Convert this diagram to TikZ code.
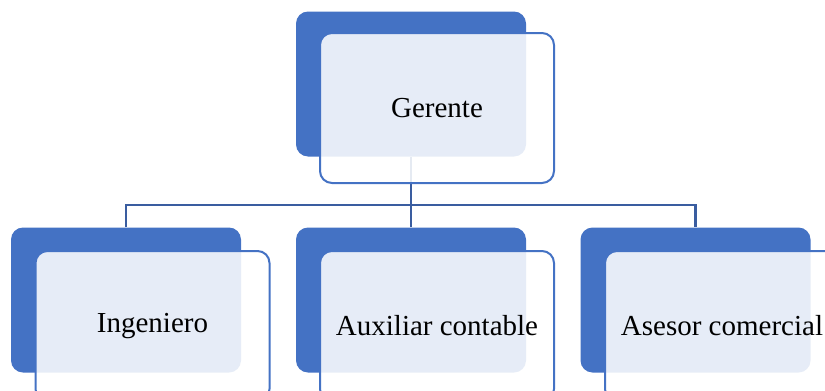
\documentclass[tikz,border=0pt]{standalone}
\usepackage{fontspec}
\setmainfont{Liberation Serif}
\definecolor{boxblue}{HTML}{4472C4}
\definecolor{linkblue}{HTML}{3A5DA0}
\begin{document}
\begin{tikzpicture}[x=1pt,y=-1pt,
  backbox/.style={draw=none,fill=boxblue,rounded corners=12pt,minimum width=230pt,minimum height=145pt,inner sep=0pt},
  frontbox/.style={draw=boxblue,line width=2pt,fill=white,fill opacity=0.87,text opacity=1,rounded corners=12pt,minimum width=234pt,minimum height=150pt,inner sep=0pt,font=\fontsize{29}{34}\selectfont},
  link/.style={draw=linkblue,line width=2.4pt}]
\useasboundingbox (0,0) rectangle (825,391);
\clip (0,0) rectangle (825,391);
% back boxes
\node[backbox] (gb) at (411,84) {};
\node[backbox] (ib) at (126,300) {};
\node[backbox] (ab) at (411,300) {};
\node[backbox] (cb) at (695.5,300) {};
% connectors
\coordinate (bus) at (411,205);
\draw[link] (gb.south) -- (ab.north);
\draw[link] (ib.north) |- (bus) -| (cb.north);
% front boxes
\node[frontbox] (g) at (437,108) {Gerente};
\node[frontbox] (i) at (152.5,326) {Ingeniero};
\node[frontbox] (a) at (437,326) {Auxiliar contable};
\node[frontbox] (c) at (722,326) {Asesor comercial};
\end{tikzpicture}
\end{document}
